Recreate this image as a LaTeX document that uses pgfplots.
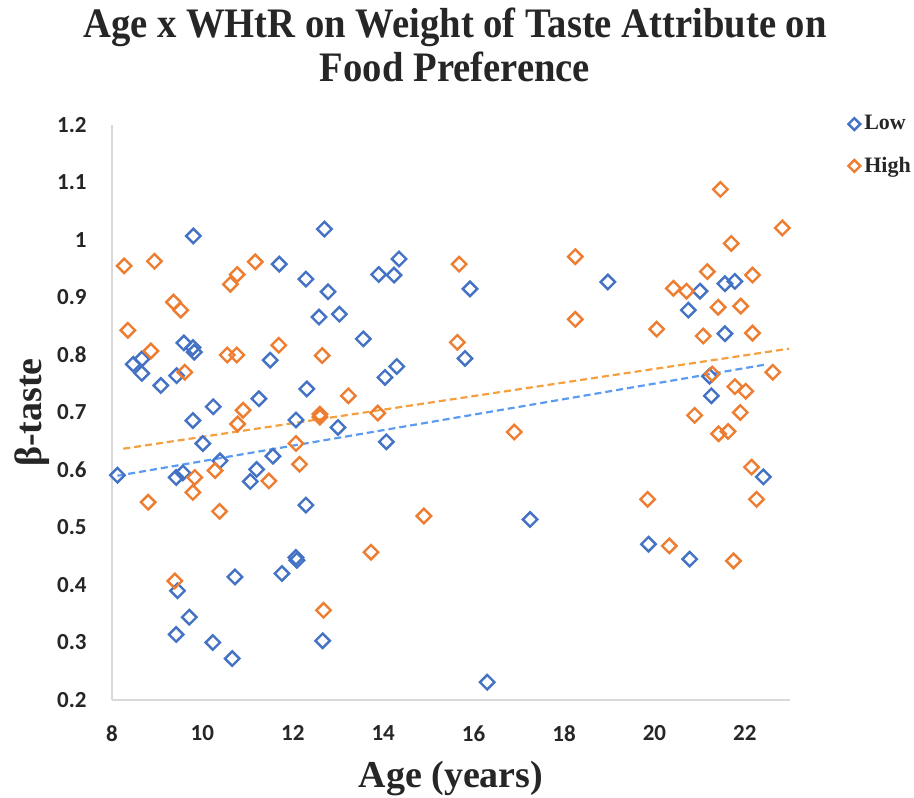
\documentclass[border=0pt]{standalone}
\usepackage{fontspec}
\setmainfont{Liberation Serif}
\newfontfamily\carlito{Carlito}
\newfontfamily\titlefont{Liberation Serif}[FakeStretch=0.92]
\usepackage{pgfplots}
\pgfplotsset{compat=1.18}
\usepackage{pgfplotstable}

\definecolor{lowc}{HTML}{4472C4}
\definecolor{highc}{HTML}{ED7D31}
\definecolor{lowt}{HTML}{5B9BF0}
\definecolor{hight}{HTML}{F5A03F}
\definecolor{axgray}{HTML}{D9D9D9}
\definecolor{txt}{HTML}{262626}

\pgfplotstableread{
x y
9.80 1.007
12.70 1.019
11.70 0.958
12.29 0.932
12.78 0.910
12.58 0.866
13.03 0.871
8.47 0.784
8.66 0.793
8.66 0.768
9.08 0.747
9.43 0.764
9.59 0.821
9.79 0.813
9.82 0.805
11.50 0.791
12.31 0.741
11.25 0.724
10.24 0.710
9.79 0.686
10.01 0.646
12.07 0.687
13.00 0.674
8.12 0.591
9.42 0.587
9.57 0.595
10.39 0.616
11.20 0.601
11.06 0.580
11.56 0.624
12.29 0.539
9.45 0.390
10.72 0.414
11.76 0.420
12.07 0.448
12.09 0.443
9.71 0.344
9.42 0.314
10.23 0.300
10.66 0.272
12.66 0.303
14.35 0.967
13.90 0.940
14.24 0.939
15.92 0.915
13.56 0.828
14.30 0.780
14.04 0.761
15.81 0.794
14.07 0.649
17.25 0.514
16.30 0.231
18.97 0.927
21.01 0.911
21.56 0.924
21.78 0.928
20.75 0.878
21.56 0.837
21.22 0.763
21.26 0.729
22.41 0.588
19.87 0.471
20.78 0.445
}\lowdata

\pgfplotstableread{
x y
8.27 0.955
8.94 0.963
11.17 0.962
10.77 0.940
10.62 0.923
9.36 0.892
9.52 0.878
8.35 0.843
8.86 0.807
10.55 0.800
10.76 0.800
11.69 0.817
12.65 0.799
9.61 0.770
13.23 0.729
10.90 0.704
10.78 0.680
12.60 0.697
12.60 0.692
12.07 0.646
9.83 0.587
10.28 0.599
9.79 0.561
11.47 0.581
12.15 0.610
8.80 0.544
10.38 0.528
9.39 0.407
12.68 0.356
15.68 0.958
18.25 0.971
18.25 0.862
15.64 0.822
13.88 0.699
16.90 0.666
14.90 0.520
13.73 0.457
21.46 1.088
22.83 1.021
21.70 0.994
21.17 0.945
22.17 0.939
20.42 0.916
20.71 0.911
21.41 0.883
21.91 0.885
20.05 0.845
21.08 0.833
22.17 0.838
21.28 0.767
22.62 0.770
21.78 0.745
22.02 0.737
20.89 0.695
21.90 0.700
21.42 0.663
21.63 0.667
22.15 0.605
22.26 0.549
19.85 0.549
20.33 0.468
21.75 0.442
}\highdata

\begin{document}
\begin{tikzpicture}
\begin{axis}[
  name=ax,
  scale only axis,
  width=339pt, height=287.5pt,
  xmin=8, xmax=23, ymin=0.2, ymax=1.2,
  axis x line*=bottom, axis y line*=left,
  axis line style={axgray, line width=0.6pt, -},
  xtick={8,10,12,14,16,18,20,22},
  ytick={0.2,0.3,0.4,0.5,0.6,0.7,0.8,0.9,1,1.1,1.2},
  major tick length=0pt,
  /pgf/number format/assume math mode=true,
  tick label style={font=\carlito\bfseries\fontsize{11.5}{13}\selectfont, text=txt},
  xticklabel style={anchor=north, inner sep=0pt, yshift=-12.5pt},
  yticklabel style={anchor=east, inner sep=0pt, xshift=-12.5pt},
  legend style={draw=none, fill=none, at={(1,1)}, anchor=north west,
    xshift=26pt, yshift=9pt,
    font=\bfseries\fontsize{11}{13}\selectfont, text=txt,
    row sep=8pt, /tikz/every even column/.append style={column sep=1pt}},
  legend cell align=left,
  legend image code/.code={\draw[#1, mark size=2.1pt] plot coordinates {(3pt,0pt)};},
]
\addplot[only marks, mark=square, mark size=2.55pt, mark options={rotate=45, line width=1.2pt, lowc, fill=none}]
  table[x=x, y=y] {\lowdata};
\addlegendentry{Low}
\addplot[only marks, mark=square, mark size=2.55pt, mark options={rotate=45, line width=1.2pt, highc, fill=none}]
  table[x=x, y=y] {\highdata};
\addlegendentry{High}
\addplot[forget plot, hight, line width=1.1pt, dash pattern=on 3.5pt off 2pt] coordinates {(8.25,0.637) (22.98,0.811)};
\addplot[forget plot, lowt, line width=1.1pt, dash pattern=on 3.5pt off 2pt] coordinates {(8.12,0.590) (22.43,0.783)};
\end{axis}
\node[font=\titlefont\bfseries\fontsize{21}{24}\selectfont, text=txt, anchor=base, inner sep=0pt] at ([xshift=2pt, yshift=43.5pt]ax.north) {Age x WHtR on Weight of Taste Attribute on};
\node[font=\titlefont\bfseries\fontsize{21}{24}\selectfont, text=txt, anchor=base, inner sep=0pt] at ([xshift=2pt, yshift=21.5pt]ax.north) {Food Preference};
\node[font=\bfseries\fontsize{19}{23}\selectfont, text=txt, anchor=base, inner sep=0pt] at ([yshift=-43.5pt]ax.south) {Age (years)};
\node[font=\bfseries\fontsize{19}{23}\selectfont, text=txt, anchor=base, rotate=90, inner sep=0pt] at ([xshift=-35pt]ax.west) {β-taste};
\pgfresetboundingbox
\path[use as bounding box] ([xshift=-56pt, yshift=-48.5pt]ax.south west) rectangle ([xshift=401pt, yshift=350pt]ax.south west);
\end{tikzpicture}
\end{document}
